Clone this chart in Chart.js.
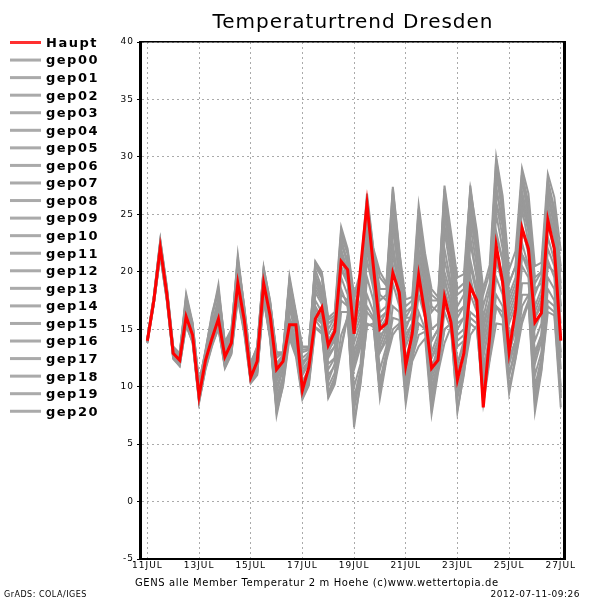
<!DOCTYPE html>
<html><head><meta charset="utf-8">
<script src="https://cdn.jsdelivr.net/npm/chart.js@4.4.1/dist/chart.umd.min.js"></script>
<style>html,body{margin:0;padding:0;background:#fff}#wrap{width:600px;height:600px}</style>
</head><body><div id="wrap"><canvas id="c" width="600" height="600"></canvas></div>
<script>
// hours after 11JUL 00Z (6-hourly)
const hours = [0,6,12,18,24,30,36,42,48,54,60,66,72,78,84,90,96,102,108,114,120,126,132,138,144,150,156,162,168,174,180,186,192,198,204,210,216,222,228,234,240,246,252,258,264,270,276,282,288,294,300,306,312,318,324,330,336,342,348,354,360,366,372,378,384];
const xTickHours = [0,48,96,144,192,240,288,336,384];
const xTickLabels = ['11JUL','13JUL','15JUL','17JUL','19JUL','21JUL','23JUL','25JUL','27JUL'];
const yTickValues = [-5,0,5,10,15,20,25,30,35,40];
const yTickLabels = ['-5','0','5','10','15','20','25','30','35','40'];
const seriesNames = ['Haupt','gep00','gep01','gep02','gep03','gep04','gep05','gep06','gep07','gep08','gep09','gep10','gep11','gep12','gep13','gep14','gep15','gep16','gep17','gep18','gep19','gep20'];

const haupt = [14.0,17.5,22.1,18.1,12.9,12.3,16.1,14.5,9.2,12.3,14.2,15.9,12.6,13.8,19.0,15.8,10.8,12.2,19.0,16.2,11.5,12.2,15.4,15.4,9.7,11.7,15.9,16.9,13.6,14.8,20.9,20.2,14.6,20.3,25.9,20.4,15.0,15.5,19.9,18.2,11.8,14.6,19.7,16.2,11.6,12.3,17.8,15.6,10.6,12.9,18.7,17.5,8.2,14.4,22.3,19.1,13.0,16.7,23.8,22.0,15.6,16.4,24.5,22.0,14.0];

const gep00 = [14.1,17.6,22.5,18.4,13.1,12.5,16.8,14.9,9.6,12.5,14.8,16.3,12.9,14.0,19.8,16.0,11.2,12.4,19.6,16.4,12.0,12.8,18.5,16.0,12.5,13.0,20.2,18.6,14.5,15.6,23.0,20.5,16.0,17.5,26.2,21.5,17.5,18.0,26.8,21.0,15.0,16.5,24.8,20.4,16.5,17.2,27.0,22.8,18.0,18.5,27.5,23.0,17.0,19.0,29.8,26.0,19.0,20.5,28.5,25.5,19.5,20.0,27.8,25.0,20.5];
const gep01 = [13.9,17.3,21.6,17.8,12.7,12.2,15.6,14.2,9.0,12.1,13.9,15.5,12.2,13.5,18.4,15.4,10.5,11.3,17.8,14.5,7.5,10.2,14.5,13.0,9.0,10.3,15.2,14.8,9.2,10.5,13.5,16.2,6.5,10.5,15.3,15.5,9.0,12.3,14.5,15.3,8.5,12.2,13.5,14.2,7.6,11.2,13.8,15.2,7.8,11.3,14.5,15.3,8.5,12.3,15.5,15.4,9.4,12.4,15.5,17.3,7.8,11.3,16.5,16.2,8.2];
const gep02 = [14.2,17.8,22.7,18.6,13.3,12.8,17.6,15.3,10.1,12.9,15.6,17.2,13.4,14.5,20.5,16.6,11.8,13.2,20.2,17.2,12.8,12.8,19.4,16.2,13.2,13.3,20.8,19.8,15.8,16.2,23.6,21.8,17.6,19.5,26.5,21.8,19.5,18.8,27.2,21.8,17.6,17.8,25.8,21.6,18.5,17.8,27.5,23.5,19.5,19.8,27.2,23.6,18.5,20.6,30.0,26.6,20.2,21.8,29.0,26.8,20.5,20.8,28.5,26.5,21.8];
const gep03 = [14.0,17.4,21.9,18.0,12.8,12.0,15.5,14.0,8.8,11.8,13.8,15.2,11.9,13.1,18.0,15.0,10.6,11.5,18.0,14.8,9.0,10.8,16.0,14.0,10.2,11.2,17.5,16.5,12.0,12.5,19.5,18.0,11.5,13.5,21.0,18.5,13.0,14.0,22.5,18.5,12.0,14.5,21.0,17.8,11.5,13.5,22.0,19.0,13.5,14.0,23.0,19.5,12.5,15.5,25.0,22.0,14.5,16.0,25.5,22.5,15.0,16.5,26.0,23.0,17.0];
const gep04 = [14.1,17.7,22.3,18.3,13.0,12.6,16.9,14.8,9.8,12.7,15.2,17.8,13.2,14.3,20.1,16.4,11.5,12.8,19.8,16.8,11.0,12.5,18.8,15.5,11.8,12.8,19.5,17.5,13.0,14.2,21.5,19.2,13.8,15.5,24.0,20.0,15.0,16.0,25.0,20.5,14.5,15.5,23.0,19.0,13.0,14.5,25.0,21.0,15.5,16.0,25.5,21.5,14.0,17.0,27.5,24.0,16.5,18.0,27.0,24.5,17.0,18.5,27.0,24.5,19.0];
const gep05 = [13.8,17.2,21.4,17.6,12.5,11.9,15.4,14.0,8.7,11.6,13.6,15.4,11.7,12.9,17.8,14.8,10.4,11.1,17.6,14.3,8.0,10.5,15.0,13.5,9.5,10.8,16.5,15.5,10.5,12.0,18.5,17.0,12.0,14.0,22.5,19.0,13.5,15.0,24.0,19.5,11.0,13.0,19.5,16.0,9.0,11.5,16.5,15.0,8.0,11.0,15.5,15.0,9.0,12.5,17.0,16.0,10.0,12.5,16.0,17.5,8.5,11.5,17.0,16.5,9.0];
const gep06 = [14.2,17.9,22.8,18.8,13.5,12.9,18.1,15.6,10.3,13.1,16.4,18.5,13.8,14.8,21.2,16.9,11.9,13.4,20.4,17.4,13.0,13.0,19.6,16.5,13.5,13.5,20.9,20.0,16.0,16.5,23.9,22.0,18.0,20.0,26.8,22.0,20.0,19.0,27.4,22.0,16.0,16.0,21.5,19.0,14.0,15.0,19.0,17.5,12.0,14.0,19.5,17.0,11.0,14.0,21.0,19.0,13.0,15.0,21.5,20.0,12.0,14.0,22.0,20.5,13.0];
const gep07 = [14.0,17.5,22.0,18.1,12.9,12.4,16.3,14.6,9.4,12.4,14.6,16.6,12.7,13.9,19.4,15.9,10.9,12.1,18.8,15.8,11.6,12.4,15.8,15.2,10.0,11.5,16.2,16.4,13.4,14.5,21.0,19.8,14.8,19.5,25.0,20.0,15.2,15.8,20.5,17.5,12.4,14.6,19.0,16.0,12.0,12.5,18.0,15.5,11.0,13.0,19.0,17.0,9.0,14.0,22.0,19.0,13.5,16.5,23.5,22.0,15.5,16.5,24.0,22.0,14.5];
const gep08 = [13.9,17.4,21.8,17.9,12.6,12.1,15.8,14.3,9.1,12.0,14.0,15.6,12.3,13.6,18.7,15.5,11.0,12.0,18.5,15.6,10.0,11.5,17.2,14.8,11.0,12.0,18.2,17.2,12.8,13.5,20.2,19.0,12.5,14.5,22.5,19.2,14.5,15.0,23.8,19.8,13.5,15.0,22.0,18.5,12.5,14.0,23.5,20.0,14.5,15.0,24.0,20.5,13.5,16.0,26.0,23.0,15.5,17.0,26.5,23.5,16.0,17.5,25.5,23.5,18.0];
const gep09 = [14.1,17.6,22.4,18.5,13.2,12.7,17.2,15.0,9.9,12.8,15.3,17.5,13.3,14.2,20.3,16.3,11.4,12.6,19.4,16.6,9.5,11.5,17.8,15.0,12.2,12.6,19.0,18.5,14.0,15.0,22.0,20.0,15.5,17.0,25.0,21.0,16.5,17.0,26.0,20.5,16.0,17.0,25.0,21.0,17.5,17.5,26.5,22.5,17.0,18.0,26.0,22.0,16.0,18.5,28.5,25.0,17.5,19.0,28.0,25.0,18.0,19.5,27.0,24.0,18.5];
const gep10 = [14.0,17.3,21.7,17.7,12.6,12.0,15.7,14.1,8.9,11.9,14.3,16.0,12.0,13.3,18.9,15.3,10.7,11.6,18.2,15.0,8.5,10.5,15.5,13.8,9.5,10.8,16.0,15.5,10.0,11.2,16.5,16.5,9.0,11.5,18.0,16.5,10.5,13.0,19.0,17.0,10.0,13.0,18.0,16.0,9.5,12.0,18.5,16.5,10.0,12.0,19.0,17.0,11.0,13.5,21.0,19.0,12.0,14.0,20.5,19.5,11.0,13.0,21.0,19.5,11.5];
const gep11 = [14.2,17.8,22.6,18.6,13.4,12.8,17.9,15.4,10.4,13.0,16.0,18.9,13.6,14.6,21.5,16.8,12.0,13.5,20.3,17.5,12.5,13.0,19.0,16.3,13.0,13.2,20.5,19.5,15.0,16.0,22.5,21.0,16.5,18.5,24.0,21.5,18.0,17.5,24.5,21.0,17.0,17.5,24.0,21.0,17.0,16.5,25.5,22.0,16.0,17.0,24.5,22.0,15.5,17.5,26.0,24.0,17.0,18.5,26.5,24.0,16.5,18.0,25.0,23.0,16.5];
const gep12 = [14.0,17.5,22.2,18.2,12.9,12.3,16.5,14.7,9.3,12.2,14.5,16.4,12.5,13.7,19.2,15.7,10.8,11.8,18.4,15.2,10.5,11.8,16.8,14.5,10.5,11.5,17.0,16.0,11.5,12.5,18.0,17.5,10.0,12.0,19.5,17.5,11.5,13.5,20.5,18.0,9.0,12.5,16.5,15.0,8.0,11.5,15.0,15.5,9.0,11.5,16.5,16.0,10.0,13.0,18.0,17.0,11.0,13.5,18.0,18.0,9.5,12.0,18.5,17.5,10.0];
const gep13 = [13.9,17.2,21.5,17.6,12.4,11.8,15.3,13.9,8.6,11.5,13.5,15.1,11.6,12.8,17.6,14.6,10.3,11.0,17.6,14.1,7.8,10.0,14.2,12.6,8.9,10.1,15.1,14.6,9.0,10.2,13.2,16.1,7.0,10.2,15.5,15.2,9.5,12.5,15.0,15.5,9.5,12.5,15.5,15.0,10.0,12.0,17.0,16.0,11.0,13.0,18.0,16.5,12.0,13.5,19.5,18.0,12.5,14.0,19.0,19.0,13.0,14.5,20.5,20.0,14.0];
const gep14 = [14.1,17.7,22.3,18.4,13.1,12.5,16.9,14.9,9.7,12.6,15.0,17.0,13.0,14.1,20.0,16.2,11.3,12.5,19.2,16.0,11.5,12.0,18.0,15.8,12.0,12.5,19.8,18.0,13.5,14.8,22.5,20.8,15.0,16.5,25.5,21.0,16.0,16.5,25.5,20.5,15.5,16.0,24.0,20.0,15.0,15.5,26.0,21.5,16.5,17.0,27.0,22.5,15.0,17.5,29.0,25.5,18.0,19.5,28.0,25.0,18.5,19.0,28.0,25.5,20.0];
const gep15 = [14.0,17.4,21.9,18.0,12.8,12.2,16.0,14.4,9.2,12.2,14.1,15.8,12.4,13.8,18.8,15.6,11.0,12.2,19.0,15.9,10.5,12.0,17.5,15.2,11.5,12.3,18.8,17.8,13.2,14.0,21.2,19.5,13.0,15.0,23.0,19.5,14.0,15.5,22.0,19.0,12.5,14.0,20.5,17.5,11.0,13.0,20.0,18.0,12.0,13.5,21.0,18.5,11.5,14.5,23.5,21.0,14.0,15.5,24.0,21.5,14.0,15.5,24.5,22.0,15.5];
const gep16 = [14.2,17.9,22.7,18.7,13.4,12.9,17.7,15.5,10.2,13.2,16.2,18.2,13.9,15.0,21.0,17.0,12.1,13.4,20.0,17.3,12.8,12.9,19.2,16.3,13.4,13.4,20.6,19.6,15.5,16.0,23.2,21.5,17.0,18.8,26.0,21.8,18.5,18.5,26.5,21.5,16.5,17.0,25.5,21.0,18.0,17.5,27.2,23.0,18.5,19.0,27.0,23.0,18.0,20.0,29.0,26.0,19.0,20.5,28.5,26.0,19.0,20.0,27.5,25.5,20.0];
const gep17 = [13.9,17.3,21.6,17.8,12.6,12.1,15.6,14.2,9.0,11.9,13.8,15.3,12.1,13.4,18.2,15.2,10.5,11.4,17.9,14.6,9.0,10.8,15.5,13.5,9.5,11.0,16.8,15.8,11.0,11.8,17.5,17.0,8.5,11.0,17.0,16.0,9.5,12.5,17.0,16.5,10.5,13.0,19.0,17.0,12.5,13.5,21.0,18.5,14.0,14.5,22.5,19.5,13.0,15.0,23.0,21.0,12.0,14.0,21.5,20.5,10.0,12.5,19.5,18.5,9.0];
const gep18 = [14.1,17.6,22.4,18.3,13.1,12.6,17.0,15.1,9.8,12.6,15.4,17.4,13.1,14.4,20.7,16.5,11.6,12.9,19.9,17.0,11.8,12.6,18.2,16.0,12.0,12.8,19.5,18.5,14.0,15.0,21.8,20.0,14.5,16.0,23.5,20.5,15.5,16.5,24.5,20.0,14.0,15.5,23.5,19.5,14.0,15.0,24.0,21.0,15.0,16.0,25.0,21.5,14.5,16.5,27.0,24.5,16.0,17.5,26.0,23.5,16.0,17.0,26.5,24.0,17.0];
const gep19 = [14.0,17.5,22.0,18.1,12.8,12.3,16.2,14.6,9.4,12.3,14.4,16.2,12.6,13.9,19.5,15.9,11.0,12.3,19.1,16.2,10.8,12.2,17.8,15.5,11.2,12.2,18.5,17.5,12.5,13.5,20.5,19.0,12.0,14.0,22.0,18.8,13.0,14.5,21.5,18.5,11.5,13.5,20.0,17.5,10.5,12.5,19.5,17.0,11.5,13.0,20.5,18.0,10.5,13.5,22.0,19.5,13.0,15.0,22.5,20.5,12.5,14.5,23.0,21.0,12.5];
const gep20 = [13.8,17.2,21.4,17.5,12.5,11.8,15.4,13.8,8.7,11.7,13.7,15.0,11.8,13.0,17.9,14.9,10.4,11.2,17.7,14.4,8.2,10.4,14.8,13.0,9.2,10.5,15.8,15.0,9.5,10.8,14.5,16.0,8.0,11.0,16.5,15.8,10.0,12.8,16.0,15.8,9.0,12.5,14.5,14.8,8.5,11.8,15.0,15.5,9.5,12.0,16.0,15.5,10.0,12.5,17.0,16.5,11.0,13.0,17.0,18.0,9.0,12.0,17.5,17.0,9.5];

const allSeries = [haupt,gep00,gep01,gep02,gep03,gep04,gep05,gep06,gep07,gep08,gep09,gep10,gep11,gep12,gep13,gep14,gep15,gep16,gep17,gep18,gep19,gep20];

const RED = '#ff0000', GRAY = '#999999';
const datasets = allSeries.map((vals, i) => ({
  label: seriesNames[i],
  data: vals.map((v, k) => ({x: hours[k], y: v})),
  borderColor: i === 0 ? RED : GRAY,
  backgroundColor: i === 0 ? RED : GRAY,
  borderWidth: i === 0 ? 3 : 2,
  pointRadius: 0,
  tension: 0,
  fill: false
}));

const FONT = "'DejaVu Sans', sans-serif";

const framePlugin = {
  id: 'frame',
  beforeDraw(chart) { chart.ctx.letterSpacing = '1px'; },
  afterDraw(chart) {
    const ctx = chart.ctx, a = chart.chartArea;
    ctx.save();
    ctx.letterSpacing = '0px';
    ctx.fillStyle = '#000';
    ctx.fillRect(a.left - 3, a.top - 1, 3, a.bottom - a.top + 2);   // left
    ctx.fillRect(a.right - 1, a.top - 1, 3, a.bottom - a.top + 2);  // right
    ctx.fillRect(a.left - 3, a.top - 1, a.right - a.left + 5, 1.5); // top
    ctx.fillRect(a.left - 3, a.bottom - 1, a.right - a.left + 5, 2); // bottom
    // legend
    chart.data.datasets.forEach((ds, i) => {
      const y = 42.5 + i * 17.56;
      ctx.fillStyle = i === 0 ? '#ff3030' : '#aaaaaa';
      ctx.fillRect(10, y - 1.5, 31, 3);
      ctx.fillStyle = '#000';
      ctx.font = "bold 13px " + FONT;
      ctx.letterSpacing = '1.5px';
      ctx.textBaseline = 'middle';
      ctx.textAlign = 'left';
      ctx.fillText(ds.label, 46, y + 1);
    });
    // captions
    ctx.letterSpacing = '0.6px';
    ctx.font = "10px " + FONT;
    ctx.textBaseline = 'middle';
    ctx.textAlign = 'left';
    ctx.fillText('GENS alle Member Temperatur 2 m Hoehe (c)www.wettertopia.de', 135, 583);
    ctx.letterSpacing = '0.5px';
    ctx.font = "9px " + FONT;
    ctx.textAlign = 'right';
    ctx.fillText('2012-07-11-09:26', 580, 595);
    ctx.textAlign = 'left';
    ctx.font = "8px " + FONT;
    ctx.fillText('GrADS: COLA/IGES', 4, 595);
    ctx.restore();
  }
};

new Chart(document.getElementById('c'), {
  type: 'line',
  data: { datasets },
  options: {
    responsive: false,
    animation: false,
    devicePixelRatio: 1,
    parsing: true,
    layout: { padding: { left: 100, right: 36, top: 0, bottom: 0 } },
    plugins: {
      legend: { display: false },
      tooltip: { enabled: false },
      title: {
        display: true,
        text: 'Temperaturtrend Dresden',
        fullSize: false,
        color: '#000',
        font: { family: FONT, size: 20, weight: 'normal', lineHeight: 1.2 },
        padding: { top: 11, bottom: 7 }
      }
    },
    scales: {
      x: {
        type: 'linear',
        min: -5,
        max: 387,
        afterBuildTicks(scale) { scale.ticks = xTickHours.map(v => ({ value: v })); },
        afterFit(scale) { scale.height = 41; },
        ticks: {
          autoSkip: false,
          maxRotation: 0,
          color: '#000',
          padding: 1,
          font: { family: FONT, size: 9 },
          callback: (v) => { const i = xTickHours.indexOf(v); return i >= 0 ? xTickLabels[i] : ''; }
        },
        grid: { color: '#aaaaaa', lineWidth: 1, drawTicks: false },
        border: { display: false, dash: [2, 3] }
      },
      y: {
        type: 'linear',
        min: -5,
        max: 40,
        afterBuildTicks(scale) { scale.ticks = yTickValues.map(v => ({ value: v })); },
        afterFit(scale) { scale.width = 42; },
        ticks: {
          color: '#000',
          padding: 3,
          font: { family: FONT, size: 9 },
          callback: (v) => { const i = yTickValues.indexOf(v); return i >= 0 ? yTickLabels[i] : ''; }
        },
        grid: { color: '#aaaaaa', lineWidth: 1, drawTicks: true, tickLength: 5, tickColor: '#000', tickBorderDash: [] },
        border: { display: false, dash: [2, 3] }
      }
    }
  },
  plugins: [framePlugin]
});
</script>
</body></html>
